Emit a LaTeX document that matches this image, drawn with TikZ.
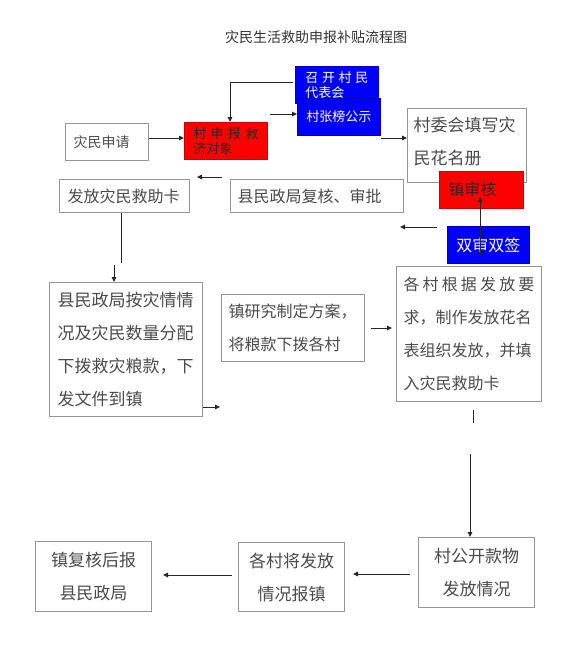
\documentclass[tikz,border=0pt]{standalone}
\usepackage{fontspec}
\setmainfont{Noto Sans CJK SC}
\usetikzlibrary{arrows.meta}
\definecolor{txtgray}{RGB}{75,75,75}
\definecolor{boxgray}{RGB}{150,150,150}
\definecolor{pureblue}{RGB}{0,0,255}
\definecolor{purered}{RGB}{255,0,0}
\tikzset{
  box/.style={draw=boxgray, line width=1pt, fill=white, text=txtgray, anchor=north west, inner ysep=0pt, align=left},
  bluebox/.style={draw=pureblue!75!black, line width=0.8pt, fill=pureblue, text=white, anchor=north west, inner ysep=0pt, align=left},
  redbox/.style={draw=purered!80!black, line width=0.6pt, fill=purered, text=black!85, anchor=north west, inner ysep=0pt, align=left},
  arr/.style={draw=black!85, line width=0.9pt, -{Triangle[length=5pt,width=4.5pt]}},
  arrboth/.style={draw=black!85, line width=0.9pt, {Triangle[length=5pt,width=4.5pt]}-{Triangle[length=5pt,width=4.5pt]}},
  plain/.style={draw=black!85, line width=0.9pt},
  f13/.style={font=\fontsize{13pt}{15pt}\selectfont},
  f14/.style={font=\fontsize{14pt}{16pt}\selectfont},
  f16/.style={font=\fontsize{16pt}{33pt}\selectfont},
  f17/.style={font=\fontsize{17pt}{33pt}\selectfont},
}
\begin{document}
\begin{tikzpicture}[x=1pt,y=-1pt]
\useasboundingbox (0,0) rectangle (577,670);
\fill[white] (0,0) rectangle (577,670);

% title
\node[font=\fontsize{14pt}{16pt}\selectfont, text=black!80] (title) at (316,37.5) {灾民生活救助申报补贴流程图};

% row 1
\node[box, f14, minimum width=83pt, minimum height=37pt, text width=67pt, inner xsep=8pt] (apply) at (65,123) {灾民申请};
\node[redbox, f13, minimum width=83pt, minimum height=37pt, text width=65pt, inner xsep=9pt] (cun) at (184,122)
  {\makebox[65pt][s]{村\hfill 申\hfill 报\hfill 救}\\济对象};
\node[bluebox, f13, minimum width=83pt, minimum height=37pt, text width=63pt, inner xsep=10pt] (zhaokai) at (295,66)
  {\makebox[63pt][s]{召\hfill 开\hfill 村\hfill 民}\\代表会};
\node[bluebox, f13, minimum width=83pt, minimum height=37pt, text width=73pt, inner xsep=5pt, align=center] (zhangbang) at (297,98) {村张榜公示};
\node[box, f17, minimum width=119pt, minimum height=74pt, text width=107pt, inner xsep=6pt] (cunwei) at (407,108)
  {村委会填写灾\\民花名册\\[-23pt]\mbox{}};
\node[redbox, f16, minimum width=84pt, minimum height=37pt, text width=66pt, inner xsep=9pt] (zhenshen) at (439,171) {镇审核};
\node[bluebox, f16, minimum width=82pt, minimum height=37pt, text width=72pt, inner xsep=5pt, align=center] (shuangshen) at (447,226) {双审双签};

% row 2
\node[box, f16, minimum width=130pt, minimum height=33pt, text width=114pt, inner xsep=8pt] (fafangka) at (59,179) {发放灾民救助卡};
\node[box, f16, minimum width=173pt, minimum height=33pt, text width=159pt, inner xsep=7pt] (fuhe) at (230,179) {县民政局复核、审批};

% row 3
\node[box, f17, minimum width=153pt, minimum height=134pt, text width=137pt, inner xsep=8pt] (xmz) at (49,282)
  {县民政局按灾情情\\况及灾民数量分配\\下拨救灾粮款，下\\发文件到镇};
\node[box, f16, minimum width=143pt, minimum height=67pt, text width=129pt, inner xsep=7pt] (zhenyan) at (221,294)
  {镇研究制定方案，\\将粮款下拨各村};
\node[box, f16, minimum width=145pt, minimum height=135pt, text width=131pt, inner xsep=7pt] (gecun) at (396,266)
  {\makebox[131pt][s]{各\hfill 村\hfill 根\hfill 据\hfill 发\hfill 放\hfill 要}\\求，制作发放花名\\表组织发放，并填\\入灾民救助卡};

% row 4
\node[box, f17, minimum width=116pt, minimum height=70pt, text width=100pt, inner xsep=8pt, align=center] (zfh) at (35,541)
  {镇复核后报\\县民政局};
\node[box, f17, minimum width=106pt, minimum height=69pt, text width=92pt, inner xsep=7pt, align=center] (gcj) at (238,542)
  {各村将发放\\情况报镇};
\node[box, f17, minimum width=116pt, minimum height=70pt, text width=100pt, inner xsep=8pt, align=center] (cgk) at (418,537)
  {村公开款物\\发放情况};

% free connector ends
\coordinate (c1) at (270,114);
\coordinate (c2) at (381,138);
\coordinate (c3) at (437,227);
\coordinate (c4) at (400,227);
\coordinate (c5) at (222,177);
\coordinate (c6) at (197,177);
\coordinate (c7) at (121,263);
\coordinate (c8) at (114,265);
\coordinate (c9) at (220,407);
\coordinate (c10) at (371,328);
\coordinate (c11) at (473,410);
\coordinate (c12) at (473,423);
\coordinate (c13) at (470,454);
\coordinate (c14) at (480,197);
\coordinate (c15) at (480,257);
\coordinate (c16) at (410,574);
\coordinate (c17) at (232,575);

% connectors
\draw[arr] (apply.east |- 0,138) -- (cun.west |- 0,138);
\draw[arr] ([xshift=-2pt]zhaokai.west |- 0,82) -| (cun.north -| 230,0);
\draw[arr] (c1) -- (zhangbang.west |- c1);
\draw[arr] (c2) -- (cunwei.west |- c2);
\draw[arrboth] (c14) -- (c15);
\draw[arr] (c3) -- (c4);
\draw[arr] (c5) -- (c6);
\draw[plain] (fafangka.south -| c7) -- (c7);
\draw[arr] (c8) -- (xmz.north -| c8);
\draw[arr] (xmz.east |- c9) -- (c9);
\draw[arr] (c10) -- ([xshift=-4pt]gecun.west |- c10);
\draw[plain] (c11) -- (c12);
\draw[arr] (c13) -- (cgk.north -| c13);
\draw[arr] (c16) -- ([xshift=8pt]gcj.east |- c16);
\draw[arr] (c17) -- ([xshift=11pt]zfh.east |- c17);
\end{tikzpicture}
\end{document}
